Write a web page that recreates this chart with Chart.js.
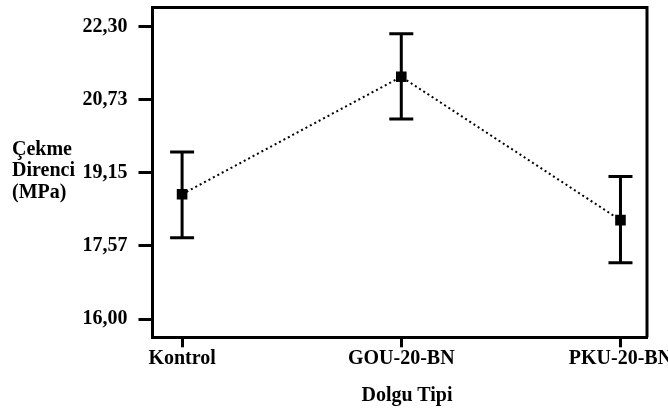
<!DOCTYPE html>
<html>
<head>
<meta charset="utf-8">
<script src="https://cdn.jsdelivr.net/npm/chart.js@4"></script>
<style>
  html, body { margin: 0; padding: 0; background: #fff; }
  #wrap { position: relative; width: 668px; height: 412px; }
  canvas { position: absolute; left: 0; top: 0; }
  .ttl { position: absolute; font-family: "Liberation Serif", "Times New Roman", serif; font-weight: bold; font-size: 20px; line-height: 21.5px; color: #000; white-space: nowrap; }
  #ytitle { left: 12px; top: 137.5px; }
  #xtitle { left: 407px; top: 384px; transform: translateX(-50%); }
</style>
</head>
<body>
<div id="wrap">
  <canvas id="c" width="668" height="412"></canvas>
  <div class="ttl" id="ytitle">Çekme<br>Direnci<br>(MPa)</div>
  <div class="ttl" id="xtitle">Dolgu Tipi</div>
</div>
<script>
const categories = ["Kontrol", "GOU-20-BN", "PKU-20-BN"];
const means = [18.69, 21.22, 18.13];
const upper = [19.60, 22.15, 19.07];
const lower = [17.75, 20.31, 17.21];
const yTickValues = [16.00, 17.575, 19.15, 20.725, 22.30];
const yTickLabels = ["16,00", "17,57", "19,15", "20,73", "22,30"];

const FONT = { family: '"Liberation Serif", "Times New Roman", serif', weight: 'bold', size: 20 };

const errorBars = {
  id: 'errorBars',
  beforeDatasetsDraw(chart) {
    const ctx = chart.ctx, xs = chart.scales.x, ys = chart.scales.y;
    ctx.save();
    ctx.strokeStyle = '#000';
    ctx.lineWidth = 3;
    ctx.lineCap = 'butt';
    for (let i = 0; i < categories.length; i++) {
      const x = xs.getPixelForValue(i);
      const yh = ys.getPixelForValue(upper[i]);
      const yl = ys.getPixelForValue(lower[i]);
      ctx.beginPath();
      ctx.moveTo(x, yh); ctx.lineTo(x, yl);
      ctx.moveTo(x - 12, yh); ctx.lineTo(x + 12, yh);
      ctx.moveTo(x - 12, yl); ctx.lineTo(x + 12, yl);
      ctx.stroke();
    }
    ctx.restore();
  }
};

const boxFrame = {
  id: 'boxFrame',
  afterDraw(chart) {
    const { ctx, chartArea: a } = chart;
    ctx.save();
    ctx.strokeStyle = '#000';
    ctx.lineWidth = 3;
    ctx.beginPath();
    ctx.moveTo(a.left, a.top); ctx.lineTo(a.right, a.top); ctx.lineTo(a.right, a.bottom);
    ctx.stroke();
    ctx.restore();
  }
};

new Chart(document.getElementById('c'), {
  type: 'line',
  data: {
    datasets: [{
      data: means.map((v, i) => ({ x: i, y: v })),
      borderColor: '#000',
      borderWidth: 2,
      borderDash: [2, 3],
      pointStyle: 'rect',
      pointRadius: 7.5,
      pointBackgroundColor: '#000',
      pointBorderColor: '#000',
      pointBorderWidth: 0,
      tension: 0,
      fill: false
    }]
  },
  options: {
    responsive: false,
    devicePixelRatio: 1,
    animation: false,
    layout: { padding: { top: 7, right: 21, left: 0, bottom: 0 } },
    plugins: { legend: { display: false }, tooltip: { enabled: false }, title: { display: false } },
    scales: {
      x: {
        type: 'linear',
        min: -0.135,
        max: 2.121,
        afterBuildTicks(scale) { scale.ticks = categories.map((c, i) => ({ value: i })); },
        afterFit(scale) { scale.height = 74.7; scale.paddingLeft = 0; scale.paddingRight = 0; },
        ticks: {
          color: '#000',
          font: FONT,
          padding: 0,
          maxRotation: 0,
          autoSkip: false,
          callback: (v) => categories[v]
        },
        grid: { drawOnChartArea: false, drawTicks: true, tickLength: 10, tickWidth: 3, tickColor: '#000' },
        border: { display: true, color: '#000', width: 3 }
      },
      y: {
        min: 15.606,
        max: 22.713,
        afterBuildTicks(scale) { scale.ticks = yTickValues.map(v => ({ value: v })); },
        afterFit(scale) { scale.width = 152.5; scale.paddingTop = 0; scale.paddingBottom = 0; },
        ticks: {
          color: '#000',
          font: FONT,
          padding: 11,
          autoSkip: false,
          callback: (v) => yTickLabels[yTickValues.indexOf(v)]
        },
        grid: { drawOnChartArea: false, drawTicks: true, tickLength: 14, tickWidth: 3, tickColor: '#000' },
        border: { display: true, color: '#000', width: 3 }
      }
    }
  },
  plugins: [errorBars, boxFrame]
});
</script>
</body>
</html>
